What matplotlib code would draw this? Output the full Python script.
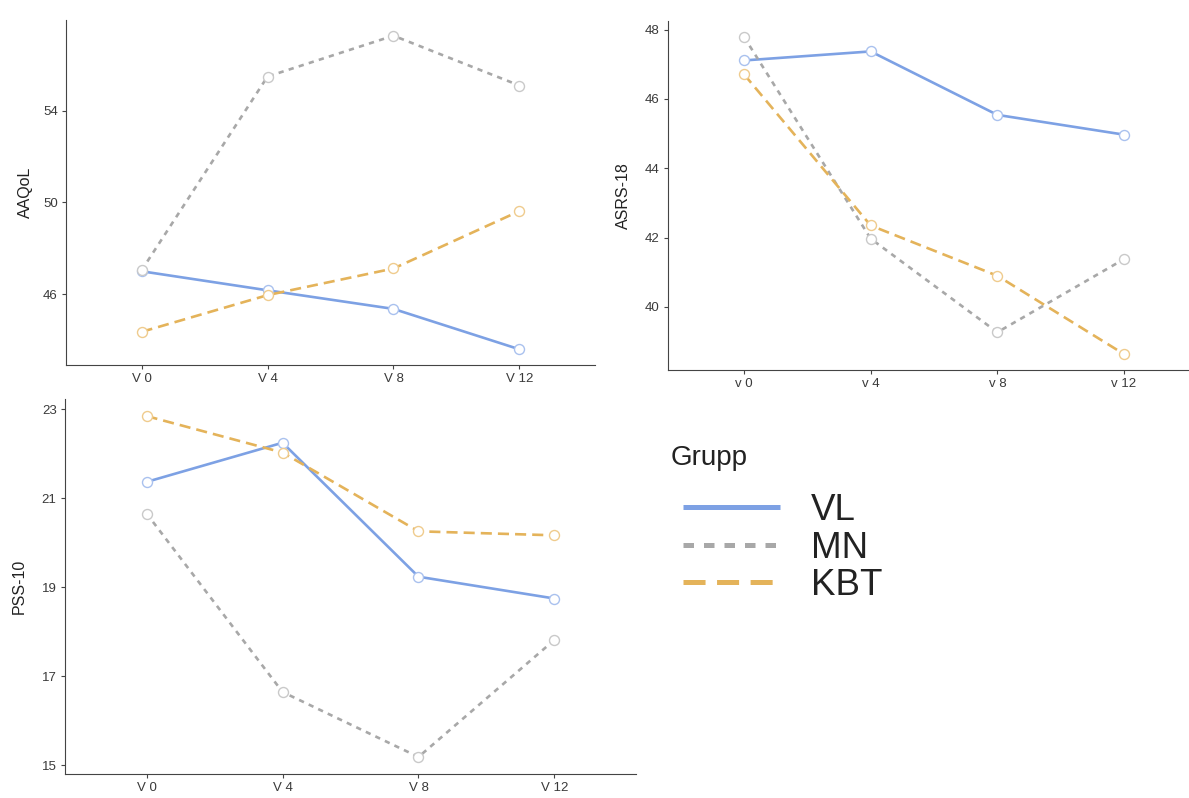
import matplotlib
matplotlib.use("Agg")
import matplotlib.pyplot as plt
from matplotlib.lines import Line2D

plt.rcParams['font.family'] = ['Liberation Sans', 'DejaVu Sans']

groups = ["VL", "MN", "KBT"]
visits_upper = ["V 0", "V 4", "V 8", "V 12"]
visits_lower = ["v 0", "v 4", "v 8", "v 12"]

aaqol_vl = [47.0, 46.17, 45.36, 43.6]
aaqol_mn = [47.04, 55.48, 57.26, 55.09]
aaqol_kbt = [44.36, 45.96, 47.12, 49.62]

asrs_vl = [47.11, 47.37, 45.54, 44.97]
asrs_mn = [47.79, 41.97, 39.27, 41.38]
asrs_kbt = [46.71, 42.35, 40.90, 38.64]

pss_vl = [21.37, 22.25, 19.24, 18.75]
pss_mn = [20.66, 16.65, 15.19, 17.82]
pss_kbt = [22.85, 22.03, 20.26, 20.17]

aaqol_ticks = [46, 50, 54]
asrs_ticks = [40, 42, 44, 46, 48]
pss_ticks = [15, 17, 19, 21, 23]

line_colors = {"VL": "#7DA1E4", "MN": "#A8A8A8", "KBT": "#E4B35A"}
edge_colors = {"VL": "#A9C1EE", "MN": "#C9C9C9", "KBT": "#EFCB8D"}
dashes = {"VL": None, "MN": (2.0, 2.0), "KBT": (4.2, 2.3)}

W, H = 1189, 798
fig = plt.figure(figsize=(W / 100, H / 100), dpi=100)


def ax_at(left, top, right, bottom):
    return fig.add_axes([left / W, 1 - bottom / H, (right - left) / W, (bottom - top) / H])


def draw_panel(ax, data, xlabels, ticks, ylabel):
    x = list(range(len(xlabels)))
    allv = []
    for g in groups:
        vals = data[g]
        allv += vals
        ln, = ax.plot(x, vals, color=line_colors[g], lw=1.9, zorder=2,
                      solid_capstyle='butt', dash_capstyle='butt')
        if dashes[g] is not None:
            ln.set_dashes(dashes[g])
    for g in groups:
        ax.plot(x, data[g], linestyle='none', marker='o', markersize=7.2,
                markerfacecolor='white', markeredgecolor=edge_colors[g],
                markeredgewidth=1.0, zorder=3)
    lo, hi = min(allv), max(allv)
    pad = 0.05 * (hi - lo)
    ax.set_ylim(lo - pad, hi + pad)
    ax.set_xlim(-0.6, len(xlabels) - 1 + 0.6)
    ax.set_xticks(x)
    ax.set_xticklabels(xlabels)
    ax.set_yticks(ticks)
    ax.set_ylabel(ylabel, fontsize=11.5, color='#222222')
    for s in ['top', 'right']:
        ax.spines[s].set_visible(False)
    for s in ['left', 'bottom']:
        ax.spines[s].set_color('#444444')
        ax.spines[s].set_linewidth(0.8)
    ax.tick_params(length=3, width=0.8, color='#444444', labelsize=9.5,
                   labelcolor='#3a3a3a', pad=3)
    ax.patch.set_alpha(0)


ax1 = ax_at(66, 20, 595, 365)
draw_panel(ax1, {"VL": aaqol_vl, "MN": aaqol_mn, "KBT": aaqol_kbt},
           visits_upper, aaqol_ticks, "AAQoL")
ax1.yaxis.set_label_coords(-33 / 529, 0.5)

ax2 = ax_at(668, 21, 1200, 370)
draw_panel(ax2, {"VL": asrs_vl, "MN": asrs_mn, "KBT": asrs_kbt},
           visits_lower, asrs_ticks, "ASRS-18")
ax2.yaxis.set_label_coords(-37 / 532, 0.5)

ax3 = ax_at(65, 399, 636, 774)
draw_panel(ax3, {"VL": pss_vl, "MN": pss_mn, "KBT": pss_kbt},
           visits_upper, pss_ticks, "PSS-10")
ax3.yaxis.set_label_coords(-38 / 571, 0.5)

# Legend (manual placement in figure pixel coordinates)
def fx(px):
    return px / W


def fy(py):
    return 1 - py / H


fig.text(fx(671), fy(465), "Grupp", fontsize=20, color='#222222',
         ha='left', va='baseline')
key_rows = [507, 544.5, 582]
label_fs = 26.5
cap = label_fs * 100 / 72 * 0.716
for g, yrow in zip(groups, key_rows):
    ln = Line2D([fx(683), fx(780)], [fy(yrow), fy(yrow)], transform=fig.transFigure,
                color=line_colors[g], lw=3.6, solid_capstyle='butt',
                dash_capstyle='butt')
    if dashes[g] is not None:
        ln.set_dashes((dashes[g][0] * 1.05, dashes[g][1]))
    fig.add_artist(ln)
    fig.text(fx(811), fy(yrow + cap / 2), g, fontsize=label_fs, color='#222222',
             ha='left', va='baseline')

fig.savefig("out.png", dpi=100, facecolor='white')
